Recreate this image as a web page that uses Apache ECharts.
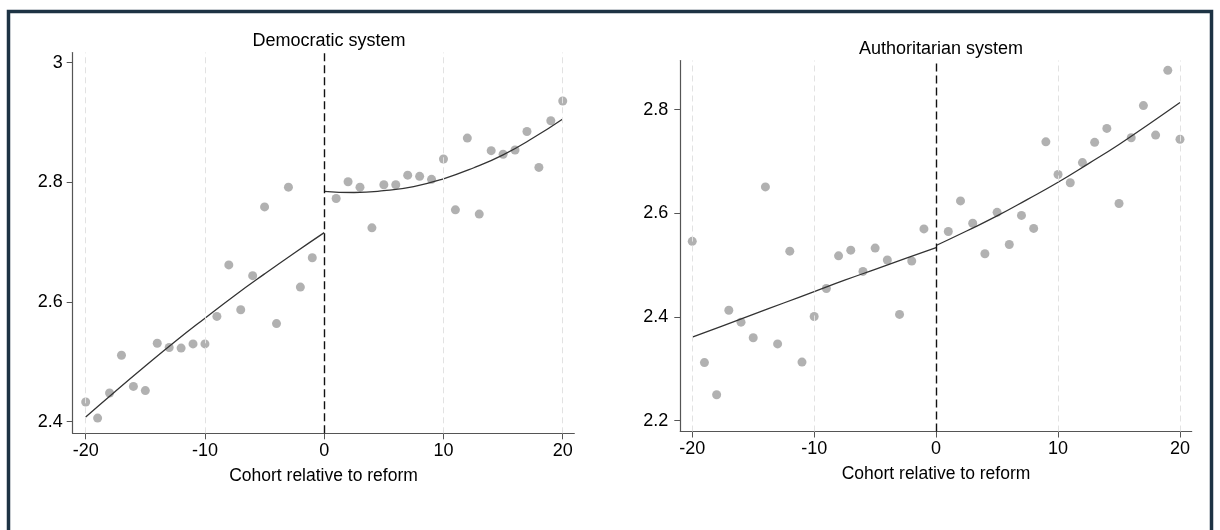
<!DOCTYPE html>
<html><head><meta charset="utf-8">
<script src="https://cdn.jsdelivr.net/npm/echarts@6/dist/echarts.min.js"></script>
<style>html,body{margin:0;padding:0;background:#fff;}#c{width:1220px;height:530px;}</style>
</head><body><div id="c"></div>
<script>
const cohorts = [-20,-19,-18,-17,-16,-15,-14,-13,-12,-11,-10,-9,-8,-7,-6,-5,-4,-3,-2,-1,
                 1,2,3,4,5,6,7,8,9,10,11,12,13,14,15,16,17,18,19,20];
const democraticScores = [2.433,2.406,2.448,2.511,2.459,2.452,2.531,2.524,2.523,2.530,
                          2.530,2.576,2.662,2.587,2.644,2.759,2.564,2.792,2.625,2.674,
                          2.773,2.801,2.792,2.724,2.796,2.796,2.812,2.810,2.805,2.839,
                          2.754,2.874,2.747,2.853,2.847,2.854,2.885,2.825,2.903,2.936];
const authoritarianScores = [2.546,2.312,2.250,2.413,2.390,2.360,2.651,2.348,2.527,2.313,
                             2.401,2.455,2.518,2.529,2.488,2.533,2.510,2.405,2.508,2.570,
                             2.565,2.624,2.581,2.522,2.602,2.540,2.596,2.571,2.738,2.675,
                             2.659,2.698,2.737,2.764,2.619,2.746,2.808,2.751,2.876,2.743];
const fitPreX  = [-20,-17.5,-15,-12.5,-10,-7.5,-5,-2.5,0];
const fitPostX = [0,2.5,5,7.5,10,12.5,15,17.5,20];
const democraticFitPre  = [2.408,2.451,2.493,2.534,2.573,2.611,2.647,2.682,2.716];
const democraticFitPost = [2.785,2.783,2.786,2.793,2.806,2.824,2.846,2.874,2.906];
const authoritarianFitPre  = [2.361,2.383,2.405,2.427,2.449,2.471,2.492,2.513,2.534];
const authoritarianFitPost = [2.538,2.566,2.595,2.627,2.660,2.696,2.733,2.773,2.814];
const xTicks = [-20,-10,0,10,20];
const democraticYTicks = [2.4,2.6,2.8,3];
const authoritarianYTicks = [2.2,2.4,2.6,2.8];
const gridLineX = [-20,-10,10,20];
const panelTitles = ['Democratic system','Authoritarian system'];
const xTitle = 'Cohort relative to reform';

const FONT = 'Liberation Sans, Arial, Helvetica, sans-serif';
const axisCol = '#555';
const textCol = '#000';
const pair = (xs, ys) => xs.map((x, i) => [x, ys[i]]);

function xAxisCfg(gi, min, max) {
  return {
    type: 'value', gridIndex: gi, min: min, max: max, position: 'bottom',
    axisLine: { show: true, onZero: false, lineStyle: { color: axisCol, width: 1.2 } },
    axisTick: { show: true, customValues: xTicks, length: 6, lineStyle: { color: axisCol, width: 1 } },
    axisLabel: { customValues: xTicks, fontSize: 18, color: textCol, margin: 9, fontFamily: FONT },
    splitLine: { show: false },
    name: xTitle, nameLocation: 'middle', nameGap: 34,
    nameTextStyle: { fontSize: 17.5, color: textCol, fontFamily: FONT }
  };
}
function yAxisCfg(gi, min, max, ticks, margin) {
  return {
    type: 'value', gridIndex: gi, min: min, max: max, position: 'left',
    axisLine: { show: true, onZero: false, lineStyle: { color: axisCol, width: 1.2 } },
    axisTick: { show: true, customValues: ticks, length: 6, lineStyle: { color: axisCol, width: 1 } },
    axisLabel: { customValues: ticks, fontSize: 18, color: textCol, margin: margin, fontFamily: FONT,
                 formatter: v => String(Math.round(v * 10) / 10) },
    splitLine: { show: false }
  };
}
function markLines() {
  return {
    silent: true, symbol: 'none', animation: false,
    label: { show: false },
    data: gridLineX.map(v => ({ xAxis: v, lineStyle: { color: '#e2e2e2', type: [6, 4], width: 1 } }))
      .concat([{ xAxis: 0, lineStyle: { color: '#111', type: [8, 4], width: 1.4 } }])
  };
}
function panelSeries(gi, scores, pre, post) {
  const dotStyle = { color: '#9e9e9e' };
  const lineStyle = { color: '#333', width: 1.3 };
  return [
    { type: 'scatter', xAxisIndex: gi, yAxisIndex: gi, data: pair(cohorts, scores),
      symbolSize: 9, itemStyle: dotStyle, z: 2, markLine: markLines() },
    { type: 'line', xAxisIndex: gi, yAxisIndex: gi, data: pair(fitPreX, pre), smooth: true,
      showSymbol: false, lineStyle: lineStyle, z: 3 },
    { type: 'line', xAxisIndex: gi, yAxisIndex: gi, data: pair(fitPostX, post), smooth: true,
      showSymbol: false, lineStyle: lineStyle, z: 3 }
  ];
}

const chart = echarts.init(document.getElementById('c'), null, { renderer: 'canvas' });
chart.setOption({
  animation: false,
  backgroundColor: '#fff',
  title: [
    { text: panelTitles[0], left: 324, top: 27, textAlign: 'center',
      textStyle: { fontSize: 18, fontWeight: 'normal', color: textCol, fontFamily: FONT } },
    { text: panelTitles[1], left: 936, top: 35, textAlign: 'center',
      textStyle: { fontSize: 18, fontWeight: 'normal', color: textCol, fontFamily: FONT } }
  ],
  grid: [
    { left: 72.7, top: 52.5, width: 501.6, height: 380.8 },
    { left: 680.3, top: 60.5, width: 511.4, height: 371 }
  ],
  xAxis: [xAxisCfg(0, -21.09, 20.97), xAxisCfg(1, -20.98, 20.96)],
  yAxis: [yAxisCfg(0, 2.3806, 3.017, democraticYTicks, 10), yAxisCfg(1, 2.179, 2.895, authoritarianYTicks, 12)],
  graphic: [{ type: 'rect', shape: { x: 8.5, y: 11.5, width: 1203, height: 600 },
              style: { fill: 'none', stroke: '#1d3344', lineWidth: 3.5 }, silent: true, z: 100 }],
  series: panelSeries(0, democraticScores, democraticFitPre, democraticFitPost)
    .concat(panelSeries(1, authoritarianScores, authoritarianFitPre, authoritarianFitPost))
});
</script></body></html>
